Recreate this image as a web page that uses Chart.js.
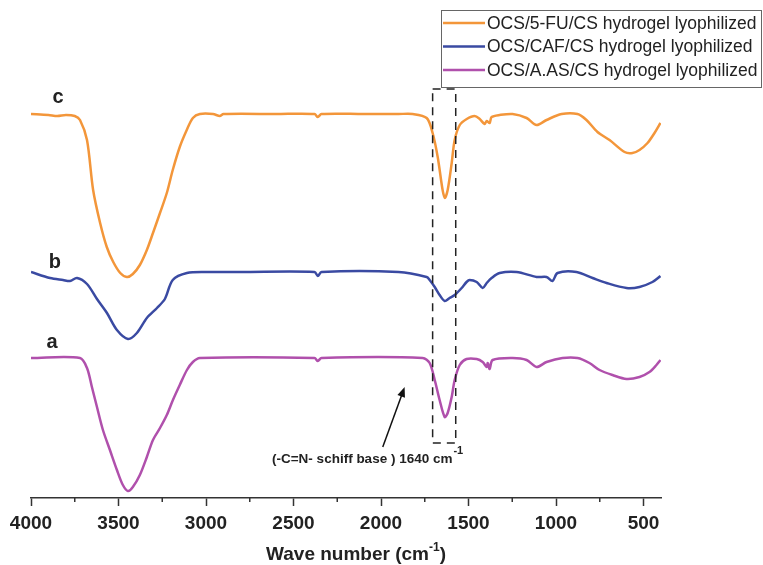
<!DOCTYPE html>
<html>
<head>
<meta charset="utf-8">
<script src="https://cdn.jsdelivr.net/npm/chart.js@4.4.0/dist/chart.umd.min.js"></script>
<style>
  body { margin: 0; background: #fff; }
  #wrap { width: 763px; height: 565px; }
</style>
</head>
<body>
<div id="wrap"><canvas id="ftir" width="763" height="565"></canvas></div>
<script>
// wave numbers (cm-1) and transmittance (offset, a.u.)
const wnC = [4000,3900,3850,3800,3750,3720,3680,3645,3605,3567,3530,3490,3452,3418,3378,3338,3303,3263,3224,3190,3150,3110,3075,3035,2960,2921,2900,2600,2380,2361,2340,2100,1900,1819,1739,1705,1676,1648,1635,1619,1596,1579,1550,1510,1465,1436,1408,1396,1379,1368,1322,1248,1168,1111,1054,968,877,826,763,694,608,563,523,477,437,403];
const tC  = [96,95.75,95.5,95.75,95.5,94.5,89.5,77,68.75,62.75,59,56.25,55.25,56,58.25,62,66.25,71.25,76.25,82,87.75,92,95,96,96,95.5,96,96,96,95.25,96,96,96,96,95,91.25,85.25,77,75,77,83.75,89.5,93.25,94.75,95.5,94.75,93.5,94.25,93.75,95.25,95.75,96,95,93.25,94.5,96,96,94.5,91.5,89.5,86.5,86.25,87,88.75,91.25,93.75];

const wnB = [4000,3891,3817,3777,3737,3680,3623,3566,3509,3446,3395,3338,3280,3235,3190,3109,2995,2800,2380,2361,2340,1900,1739,1722,1693,1665,1636,1608,1579,1539,1511,1494,1453,1419,1396,1368,1322,1225,1111,1054,1020,991,883,791,711,597,523,449,403];
const tB  = [56.5,55,54.5,54.25,55,53.5,49.75,46.25,42,39.75,41.25,45,47.5,49.75,54.5,56.25,56.5,56.5,56.5,55.5,56.5,56.5,55.25,54.5,52.75,50.75,49.25,50,50.75,52.5,54,54.5,54,52.5,53.75,55,56.25,56.5,55.25,55.25,54.25,56.25,56.5,55,53.75,52.5,52.75,54,55.5];

const wnA = [4000,3720,3680,3652,3623,3589,3549,3509,3475,3446,3418,3378,3338,3303,3263,3224,3189,3150,3109,3075,3035,2380,2361,2340,1762,1722,1693,1665,1636,1619,1596,1579,1550,1511,1453,1419,1396,1390,1379,1362,1248,1168,1111,1054,963,877,809,751,677,597,523,466,426,403];
const tA  = [35,35,32.5,27.75,22.75,17,12,7,3.25,1.75,2.75,5.75,10.25,14.5,17.5,20.75,24.5,28.25,32,34,35,35,34.25,35,35,33.75,29.5,24.5,20.25,21.25,25.25,29.5,33.25,34.75,34.75,34,32.75,33.75,32.25,34.5,35,34.5,32.75,34,35,35,33.75,32,30.75,29.75,30.25,31.5,33.25,34.5];

const seriesNames = ['OCS/5-FU/CS hydrogel lyophilized', 'OCS/CAF/CS hydrogel lyophilized', 'OCS/A.AS/CS hydrogel lyophilized'];
const seriesTags = ['c', 'b', 'a'];
const xTicks = [4000, 3500, 3000, 2500, 2000, 1500, 1000, 500];
const minorTicks = [3750, 3250, 2750, 2250, 1750, 1250, 750];

const colors = ['#F3963A', '#3A4AA2', '#B050AC'];
const FONT = '"Liberation Sans", Arial, sans-serif';

function pts(wn, t) {
  return wn.map((w, i) => ({ x: w, y: t[i] }));
}

// curve tags, box and arrow in data units
const tagPos = [[3846, 100.25], [3863, 59], [3880, 39]];
const box = { x1: 1705, x2: 1573, y1: 102.25, y2: 13.75 };
const arrow = { from: [1990, 12.75], to: [1865, 27.75] };

const overlay = {
  id: 'overlay',
  afterDraw(chart) {
    const { ctx, scales: { x, y } } = chart;
    const bottom = chart.chartArea.bottom;
    ctx.save();

    // minor ticks
    ctx.strokeStyle = '#333';
    ctx.lineWidth = 1.5;
    minorTicks.forEach(v => {
      const px = x.getPixelForValue(v);
      ctx.beginPath();
      ctx.moveTo(px, bottom);
      ctx.lineTo(px, bottom + 4);
      ctx.stroke();
    });

    // axis title with superscript
    ctx.fillStyle = '#222';
    ctx.textBaseline = 'alphabetic';
    ctx.font = 'bold 19px ' + FONT;
    const t1 = 'Wave number (cm', t3 = ')';
    const w1 = ctx.measureText(t1).width, w3 = ctx.measureText(t3).width;
    ctx.font = 'bold 12px ' + FONT;
    const w2 = ctx.measureText('-1').width;
    let tx = 356 - (w1 + w2 + w3) / 2;
    ctx.font = 'bold 19px ' + FONT;
    ctx.fillText(t1, tx, 560);
    ctx.font = 'bold 12px ' + FONT;
    ctx.fillText('-1', tx + w1, 551);
    ctx.font = 'bold 19px ' + FONT;
    ctx.fillText(t3, tx + w1 + w2, 560);

    // curve tags
    ctx.font = 'bold 20px ' + FONT;
    ctx.textAlign = 'center';
    ctx.textBaseline = 'middle';
    seriesTags.forEach((s, i) => {
      ctx.fillText(s, x.getPixelForValue(tagPos[i][0]), y.getPixelForValue(tagPos[i][1]));
    });

    // dashed box round the 1640 band
    ctx.setLineDash([8, 6]);
    ctx.strokeStyle = '#222';
    ctx.lineWidth = 1.5;
    const bx1 = x.getPixelForValue(box.x1), bx2 = x.getPixelForValue(box.x2);
    const by1 = y.getPixelForValue(box.y1), by2 = y.getPixelForValue(box.y2);
    ctx.strokeRect(bx1, by1, bx2 - bx1, by2 - by1);
    ctx.setLineDash([]);

    // arrow
    const ax1 = x.getPixelForValue(arrow.from[0]), ay1 = y.getPixelForValue(arrow.from[1]);
    const ax2 = x.getPixelForValue(arrow.to[0]), ay2 = y.getPixelForValue(arrow.to[1]);
    const ang = Math.atan2(ay2 - ay1, ax2 - ax1);
    ctx.strokeStyle = '#111';
    ctx.fillStyle = '#111';
    ctx.lineWidth = 1.5;
    ctx.beginPath();
    ctx.moveTo(ax1, ay1);
    ctx.lineTo(ax2 - 6 * Math.cos(ang), ay2 - 6 * Math.sin(ang));
    ctx.stroke();
    ctx.beginPath();
    ctx.moveTo(ax2, ay2);
    ctx.lineTo(ax2 - 10 * Math.cos(ang) + 4 * Math.sin(ang), ay2 - 10 * Math.sin(ang) - 4 * Math.cos(ang));
    ctx.lineTo(ax2 - 10 * Math.cos(ang) - 4 * Math.sin(ang), ay2 - 10 * Math.sin(ang) + 4 * Math.cos(ang));
    ctx.closePath();
    ctx.fill();

    // annotation text
    ctx.fillStyle = '#222';
    ctx.textAlign = 'left';
    ctx.textBaseline = 'alphabetic';
    ctx.font = 'bold 13.5px ' + FONT;
    const note = '(-C=N- schiff base ) 1640 cm';
    ctx.fillText(note, 272, 463);
    const nw = ctx.measureText(note).width;
    ctx.font = 'bold 11px ' + FONT;
    ctx.fillText('-1', 272 + nw + 1, 454);

    // legend
    ctx.strokeStyle = '#666';
    ctx.lineWidth = 1;
    ctx.strokeRect(441.5, 10.5, 320, 77);
    ctx.font = '17.5px ' + FONT;
    ctx.textBaseline = 'middle';
    seriesNames.forEach((name, i) => {
      const ly = 23 + i * 23.5;
      ctx.strokeStyle = colors[i];
      ctx.lineWidth = 2.5;
      ctx.beginPath();
      ctx.moveTo(443, ly);
      ctx.lineTo(485, ly);
      ctx.stroke();
      ctx.fillStyle = '#222';
      ctx.fillText(name, 487, ly + 1);
    });

    ctx.restore();
  }
};

new Chart(document.getElementById('ftir'), {
  type: 'line',
  data: {
    datasets: [
      { label: seriesNames[0], data: pts(wnC, tC), borderColor: colors[0] },
      { label: seriesNames[1], data: pts(wnB, tB), borderColor: colors[1] },
      { label: seriesNames[2], data: pts(wnA, tA), borderColor: colors[2] }
    ]
  },
  options: {
    responsive: false,
    animation: false,
    layout: { padding: { left: 31, right: 102, top: 18, bottom: 0 } },
    elements: {
      point: { radius: 0 },
      line: { borderWidth: 2.5, tension: 0.3, fill: false }
    },
    plugins: { legend: { display: false }, tooltip: { enabled: false } },
    scales: {
      x: {
        type: 'linear',
        reverse: true,
        min: 400,
        max: 4000,
        afterBuildTicks: s => { s.ticks = xTicks.map(v => ({ value: v })); },
        afterFit: s => { s.height = 67; },
        border: { display: true, color: '#333', width: 1.5 },
        grid: { drawOnChartArea: false, drawTicks: true, tickLength: 8, tickColor: '#333', tickWidth: 1.5 },
        ticks: {
          color: '#222',
          padding: 6,
          maxRotation: 0,
          autoSkip: false,
          callback: v => String(v),
          font: { family: '"Liberation Sans", Arial, sans-serif', size: 19, weight: 'bold' }
        },
        title: { display: false }
      },
      y: { display: false, min: 0, max: 120 }
    }
  },
  plugins: [overlay]
});
</script>
</body>
</html>
